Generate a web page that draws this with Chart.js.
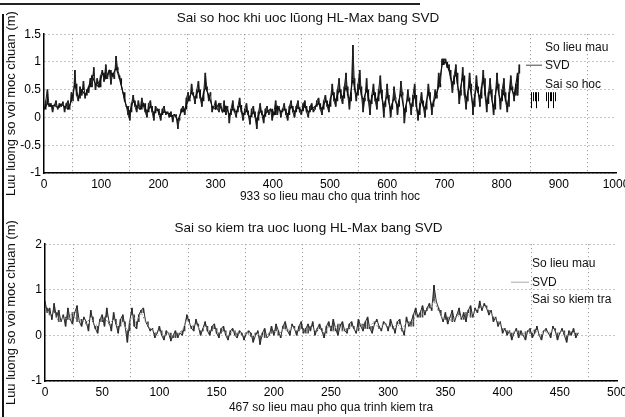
<!DOCTYPE html>
<html>
<head>
<meta charset="utf-8">
<script src="https://cdn.jsdelivr.net/npm/chart.js@4.4.1/dist/chart.umd.min.js"></script>
<style>
  body { margin: 0; background: #fff; }
  #wrap { position: relative; width: 625px; height: 417px; overflow: hidden; }
  .box { position: absolute; left: 0; width: 660px; }
  #frameL { position: absolute; left: 2px; top: 14px; width: 2px; height: 403px; background: #111; }
  #frameT { position: absolute; left: 0; top: 3px; width: 420px; height: 2px; background: #222; }
</style>
</head>
<body>
<div id="wrap">
  <div class="box" style="top:0;height:210px"><canvas id="trainChart" width="660" height="210"></canvas></div>
  <div class="box" style="top:210px;height:207px"><canvas id="testChart" width="660" height="207"></canvas></div>
  <div id="frameL"></div>
  <div id="frameT"></div>
</div>
<script>
// training set: SVD estimate read every 6 samples, measured values every 3
const trainSvdStep = 6;
const trainObsStep = 3;
const trainSvd = [
  0.15, 0.25, 0.2, 0.22, 0.18, 0.24, 0.2, 0.15, 0.3, 0.6,
  0.35, 0.5, 0.4, 0.55, 0.75, 0.6, 0.55, 0.8, 0.7, 0.85,
  0.75, 0.9, 0.7, 0.45, 0.2, 0.1, 0.3, 0.2, 0.15, 0.25,
  0.1, 0.2, 0.08, 0.15, 0.05, 0.1, 0.08, 0.02, 0.05, -0.05,
  0.1, 0.15, 0.3, 0.45, 0.35, 0.5, 0.3, 0.55, 0.4, 0.2,
  0.15, 0.25, 0.1, 0.2, 0.05, 0.15, 0.1, 0.22, 0.05, 0.12,
  0.0, 0.1, -0.05, 0.12, 0.02, 0.1, 0.15, 0.05, 0.2, 0.1,
  0.15, 0.05, 0.2, 0.1, 0.18, 0.12, 0.2, 0.1, 0.15, 0.2,
  0.25, 0.15, 0.3, 0.2, 0.45, 0.3, 0.5, 0.35, 0.55, 0.3,
  0.7, 0.4, 0.55, 0.3, 0.5, 0.25, 0.45, 0.3, 0.5, 0.2,
  0.4, 0.15, 0.35, 0.2, 0.45, 0.1, 0.35, 0.2, 0.4, 0.05,
  0.3, 0.15, 0.45, 0.2, 0.35, 0.55, 0.95, 1.0, 0.85, 0.6,
  0.8, 0.4, 0.75, 0.3, 0.6, 0.2, 0.55, 0.35, 0.7, 0.25,
  0.5, 0.15, 0.6, 0.3, 0.45, 0.2, 0.55, 0.4, 0.8
];
const trainObs = [
  0.15, 0.3, 0.5, 0.2, 0.25, 0.1, 0.22, 0.3, 0.15, 0.25,
  0.2, 0.28, 0.1, 0.25, 0.3, 0.15, 0.45, 0.3, 0.85, 0.4,
  0.3, 0.55, 0.4, 0.65, 0.35, 0.5, 0.45, 0.7, 0.55, 0.9,
  0.5, 0.7, 0.6, 0.75, 0.85, 0.65, 0.95, 0.7, 0.85, 0.6,
  0.8, 0.7, 1.1, 0.85, 0.75, 0.6, 0.45, 0.3, 0.2, 0.05,
  -0.05, 0.25, 0.4, 0.2, 0.1, 0.3, 0.15, 0.35, 0.2, 0.1,
  0.0, 0.25, 0.3, 0.1, -0.05, 0.2, 0.15, 0.05, -0.05, 0.15,
  0.2, 0.05, 0.1, 0.0, 0.1, -0.08, 0.05, 0.02, -0.2, 0.0,
  0.15, 0.2, 0.05, 0.35, 0.45, 0.3, 0.6, 0.4, 0.25, 0.5,
  0.65, 0.35, 0.2, 0.45, 0.8, 0.5, 0.3, 0.45, 0.1, 0.2,
  0.3, 0.15, 0.1, 0.25, 0.1, 0.3, 0.05, 0.2, -0.1, 0.15,
  0.3, 0.1, 0.0, 0.2, 0.35, 0.1, -0.05, 0.15, 0.25, 0.05,
  -0.12, 0.15, 0.2, 0.0, -0.2, 0.1, 0.25, 0.05, -0.1, 0.15,
  0.2, 0.05, 0.15, -0.05, 0.1, 0.3, 0.05, 0.2, 0.0, 0.15,
  0.25, 0.05, -0.05, 0.2, 0.3, 0.1, 0.0, 0.2, 0.3, 0.1,
  0.05, 0.25, 0.3, 0.1, 0.0, 0.2, 0.25, 0.1, 0.15, 0.3,
  0.35, 0.15, 0.05, 0.3, 0.4, 0.2, 0.1, 0.35, 0.6, 0.3,
  0.2, 0.5, 0.7, 0.35, 0.25, 0.55, 0.8, 0.4, 0.15, 0.45,
  1.3, 0.5, 0.3, 0.6, 0.85, 0.4, 0.1, 0.35, 0.7, 0.3,
  0.05, 0.4, 0.6, 0.3, 0.15, 0.5, 0.75, 0.35, 0.0, 0.3,
  0.6, 0.3, 0.0, 0.25, 0.55, 0.35, 0.05, 0.3, 0.65, 0.4,
  -0.1, 0.2, 0.5, 0.3, 0.05, 0.4, 0.6, 0.2, -0.05, 0.25,
  0.45, 0.2, 0.0, 0.3, 0.6, 0.35, 0.05, 0.3, 0.5, 0.4,
  0.8, 0.6, 1.05, 1.05, 1.05, 0.9, 0.95, 0.7, 0.45, 0.75,
  0.95, 0.6, 0.25, 0.5, 0.9, 0.4, 0.15, 0.45, 0.8, 0.5,
  0.05, 0.4, 0.75, 0.45, 0.2, 0.55, 0.85, 0.4, 0.1, 0.45,
  0.7, 0.35, 0.05, 0.4, 0.8, 0.45, 0.15, 0.5, 0.7, 0.3,
  0.1, 0.45, 0.75, 0.5, 0.3, 0.6, 0.4, 0.95
];
const trainXTicks = [0, 100, 200, 300, 400, 500, 600, 700, 800, 900, 1000];
const trainYTicks = [-1, -0.5, 0, 0.5, 1, 1.5];

// test set: SVD estimate read every 4 samples, measured values every 2
const testSvdStep = 4;
const testObsStep = 2;
const testSvd = [
  0.6, 0.45, 0.5, 0.3, 0.4, 0.35, 0.5, 0.3, 0.35, 0.25,
  0.4, 0.2, 0.3, 0.4, 0.25, 0.35, 0.2, 0.3, 0.1, 0.45,
  0.3, 0.5, 0.3, 0.15, 0.05, 0.1, 0.0, 0.05, -0.05, 0.05,
  0.1, 0.35, 0.2, 0.25, 0.1, 0.2, 0.1, 0.15, 0.05, 0.1,
  0.0, 0.1, 0.05, 0.0, 0.05, -0.02, 0.05, 0.0, -0.05, 0.05,
  0.1, 0.0, 0.15, 0.1, 0.2, 0.1, 0.15, 0.05, 0.2, 0.1,
  0.15, 0.05, 0.2, 0.1, 0.25, 0.1, 0.15, 0.2, 0.1, 0.25,
  0.15, 0.2, 0.3, 0.15, 0.25, 0.2, 0.15, 0.25, 0.1, 0.3,
  0.2, 0.45, 0.4, 0.55, 0.6, 0.75, 0.55, 0.35, 0.4, 0.3,
  0.45, 0.35, 0.5, 0.4, 0.55, 0.6, 0.65, 0.55, 0.4, 0.3,
  0.15, 0.1, 0.05, 0.1, 0.0, 0.08, 0.05, 0.12, 0.02, 0.1,
  0.05, 0.15, 0.05, 0.1, 0.0, 0.08, 0.05
];
const testObs = [
  0.75, 0.5, 0.6, 0.35, 0.7, 0.4, 0.55, 0.3, 0.45, 0.2,
  0.6, 0.35, 0.25, 0.5, 0.65, 0.3, 0.2, 0.4, 0.3, 0.1,
  0.55, 0.3, 0.15, 0.05, 0.35, 0.45, 0.2, 0.6, 0.3, 0.1,
  0.5, 0.25, 0.05, 0.35, 0.45, 0.2, -0.15, 0.3, 0.6, 0.2,
  0.15, 0.45, 0.55, 0.6, 0.3, 0.2, 0.1, 0.15, -0.05, 0.05,
  0.2, 0.0, -0.1, 0.1, 0.05, -0.12, 0.0, 0.1, -0.05, 0.05,
  0.0, 0.2, 0.45, 0.3, 0.15, 0.1, 0.35, 0.2, 0.0, 0.15,
  0.3, 0.1, 0.0, 0.2, 0.25, 0.05, -0.05, 0.15, 0.2, 0.0,
  -0.1, 0.1, 0.15, 0.0, -0.05, 0.1, 0.05, -0.1, 0.05, 0.1,
  0.05, -0.15, 0.0, 0.1, -0.2, 0.05, 0.15, -0.05, 0.0, 0.2,
  0.0, 0.25, 0.1, -0.05, 0.2, 0.3, 0.1, 0.0, 0.25, 0.15,
  0.0, 0.2, 0.3, 0.05, 0.15, 0.25, 0.1, 0.3, 0.0, 0.15,
  0.25, 0.1, -0.05, 0.2, 0.3, 0.1, 0.35, 0.15, 0.0, 0.2,
  0.3, 0.1, 0.05, 0.25, 0.3, 0.15, 0.05, 0.35, 0.2, 0.1,
  0.3, 0.4, 0.15, 0.05, 0.25, 0.35, 0.2, 0.1, 0.3, 0.25,
  0.1, 0.35, 0.2, 0.05, 0.3, 0.35, 0.15, 0.0, 0.4, 0.2,
  0.3, 0.45, 0.6, 0.4, 0.5, 0.65, 0.45, 0.6, 0.7, 0.55,
  1.1, 0.75, 0.6, 0.45, 0.3, 0.5, 0.25, 0.4, 0.55, 0.3,
  0.45, 0.6, 0.35, 0.5, 0.3, 0.55, 0.65, 0.4, 0.6, 0.5,
  0.75, 0.55, 0.7, 0.6, 0.45, 0.55, 0.3, 0.4, 0.2, 0.3,
  0.05, 0.15, 0.0, 0.1, -0.1, 0.05, 0.15, -0.05, 0.1, 0.0,
  -0.1, 0.1, 0.15, -0.05, 0.05, 0.2, 0.0, -0.1, 0.1, 0.15,
  0.05, -0.05, 0.2, 0.1, -0.1, 0.05, 0.15, 0.0, -0.15, 0.1,
  0.0, 0.15, -0.05, 0.05
];
const testXTicks = [0, 50, 100, 150, 200, 250, 300, 350, 400, 450, 500];
const testYTicks = [-1, 0, 1, 2];

const FONT = "'Liberation Sans', Arial, sans-serif";

// legend drawn inside the plot area, no box (like the scanned figure)
const insideLegend = {
  id: "insideLegend",
  afterDraw(chart, args, opts) {
    const ctx = chart.ctx;
    const a = chart.chartArea;
    ctx.save();
    ctx.font = "12px " + FONT;
    ctx.fillStyle = "#111";
    ctx.textBaseline = "middle";
    const labels = chart.data.datasets.map(d => d.label);
    labels.forEach((txt, i) => {
      const y = a.top + opts.rows[i];
      ctx.fillText(txt, a.right - opts.textRight, y);
    });
    // line sample for SVD
    ctx.strokeStyle = opts.lineColor;
    ctx.lineWidth = 1;
    ctx.beginPath();
    ctx.moveTo(a.right - opts.textRight - opts.lineLen - 3, a.top + opts.rows[1]);
    ctx.lineTo(a.right - opts.textRight - 3, a.top + opts.rows[1]);
    ctx.stroke();
    // error-bar sample
    if (opts.bars) {
      ctx.strokeStyle = "#000";
      const x0 = a.right - opts.textRight - 14;
      const y0 = a.top + opts.rows[2] + 8;
      [0, 2, 4, 5, 7, 15, 17, 19, 20, 22, 24].forEach((dx, k) => {
        ctx.beginPath();
        ctx.moveTo(x0 + dx + 0.5, y0);
        ctx.lineTo(x0 + dx + 0.5, y0 + (k % 3 === 0 ? 16 : 9));
        ctx.stroke();
      });
    }
    ctx.restore();
  }
};

function makeChart(id, c) {
  const ratio = c.svdStep / c.obsStep;
  const svdPts = c.svd.map((v, i) => ({ x: i * c.svdStep, y: v }));
  const obsPts = c.obs.map((v, i) => ({ x: i * c.obsStep, y: v }));
  // error bar: from the SVD estimate of that block to the measured value
  const errPts = c.obs.map((v, i) => ({
    x: i * c.obsStep,
    y: [c.svd[Math.min(Math.floor(i / ratio), c.svd.length - 1)], v],
  }));
  const grid = {
    color: "#8a8a8a",
    lineWidth: 1,
    drawTicks: false,
  };
  return new Chart(document.getElementById(id), {
    type: "line",
    data: {
      datasets: [
        {
          label: "So lieu mau",
          data: obsPts,
          borderColor: c.obsColor,
          borderWidth: 1,
          pointRadius: 0,
          tension: 0,
          order: 1,
        },
        {
          label: "SVD",
          data: svdPts,
          borderColor: c.lineColor,
          borderWidth: c.lineWidth,
          borderDash: c.dash,
          pointRadius: 0,
          tension: 0,
          order: 0,
        },
        {
          type: "bar",
          label: c.errLabel,
          data: errPts,
          backgroundColor: c.barColor,
          barThickness: c.barWidth,
          order: 2,
        },
      ],
    },
    options: {
      responsive: false,
      animation: false,
      layout: { padding: { top: 2, right: c.padRight, left: 0, bottom: 0 } },
      plugins: {
        legend: { display: false },
        tooltip: { enabled: false },
        title: {
          display: true,
          text: c.title,
          color: "#111",
          font: { family: FONT, size: 13.5, weight: "normal" },
          padding: { top: 8, bottom: 8 },
        },
        insideLegend: c.legend,
      },
      scales: {
        x: {
          type: "linear",
          min: c.xTicks[0],
          max: c.xTicks[c.xTicks.length - 1],
          offset: false,
          afterBuildTicks: s => { s.ticks = c.xTicks.map(v => ({ value: v })); },
          afterFit: s => { s.height = c.xBox; },
          grid: grid,
          border: { display: true, color: "#000", width: 1.5, dash: [1, 3] },
          ticks: {
            color: "#000",
            font: { family: FONT, size: 12 },
            padding: 4,
            maxRotation: 0,
            callback: v => String(v),
          },
          title: {
            display: true,
            text: c.xTitle,
            color: "#111",
            font: { family: FONT, size: 12 },
            padding: { top: 0, bottom: c.xTitlePad },
          },
        },
        y: {
          min: c.yTicks[0],
          max: c.yTicks[c.yTicks.length - 1],
          afterBuildTicks: s => { s.ticks = c.yTicks.map(v => ({ value: v })); },
          afterFit: s => { s.width = c.yBox; },
          grid: grid,
          border: { display: true, color: "#000", width: 1.5, dash: [1, 3] },
          ticks: {
            color: "#000",
            font: { family: FONT, size: 12 },
            padding: 3,
            callback: v => String(v),
          },
          title: {
            display: true,
            text: "Luu luong so voi moc chuan (m)",
            color: "#111",
            font: { family: FONT, size: 13 },
            padding: { top: 4, bottom: 0 },
          },
        },
      },
    },
    plugins: [insideLegend],
  });
}

makeChart("trainChart", {
  svdStep: trainSvdStep,
  obsStep: trainObsStep,
  svd: trainSvd,
  obs: trainObs,
  xTicks: trainXTicks,
  yTicks: trainYTicks,
  title: "Sai so hoc khi uoc lŭong HL-Max bang SVD",
  xTitle: "933 so lieu mau cho qua trinh hoc",
  errLabel: "Sai so hoc",
  obsColor: "#222",
  lineColor: "#111",
  lineWidth: 1.2,
  barColor: "#111",
  barWidth: 1,
  dash: [],
  xBox: 37,
  yBox: 44,
  xTitlePad: 6,
  padRight: 44,
  legend: { textRight: 71, rows: [13, 31, 50], lineLen: 16, lineColor: "#444", bars: true },
});

makeChart("testChart", {
  svdStep: testSvdStep,
  obsStep: testObsStep,
  svd: testSvd,
  obs: testObs,
  xTicks: testXTicks,
  yTicks: testYTicks,
  title: "Sai so kiem tra uoc luong HL-Max bang SVD",
  xTitle: "467 so lieu mau pho qua trinh kiem tra",
  errLabel: "Sai so kiem tra",
  obsColor: "#2a2a2a",
  lineColor: "#8a8a8a",
  lineWidth: 1,
  barColor: "#444",
  barWidth: 1,
  dash: [2, 2],
  xBox: 36,
  yBox: 45,
  xTitlePad: 2,
  padRight: 43,
  legend: { textRight: 85, rows: [19, 38, 55], lineLen: 18, lineColor: "#aaa", bars: false },
});
</script>
</body>
</html>
